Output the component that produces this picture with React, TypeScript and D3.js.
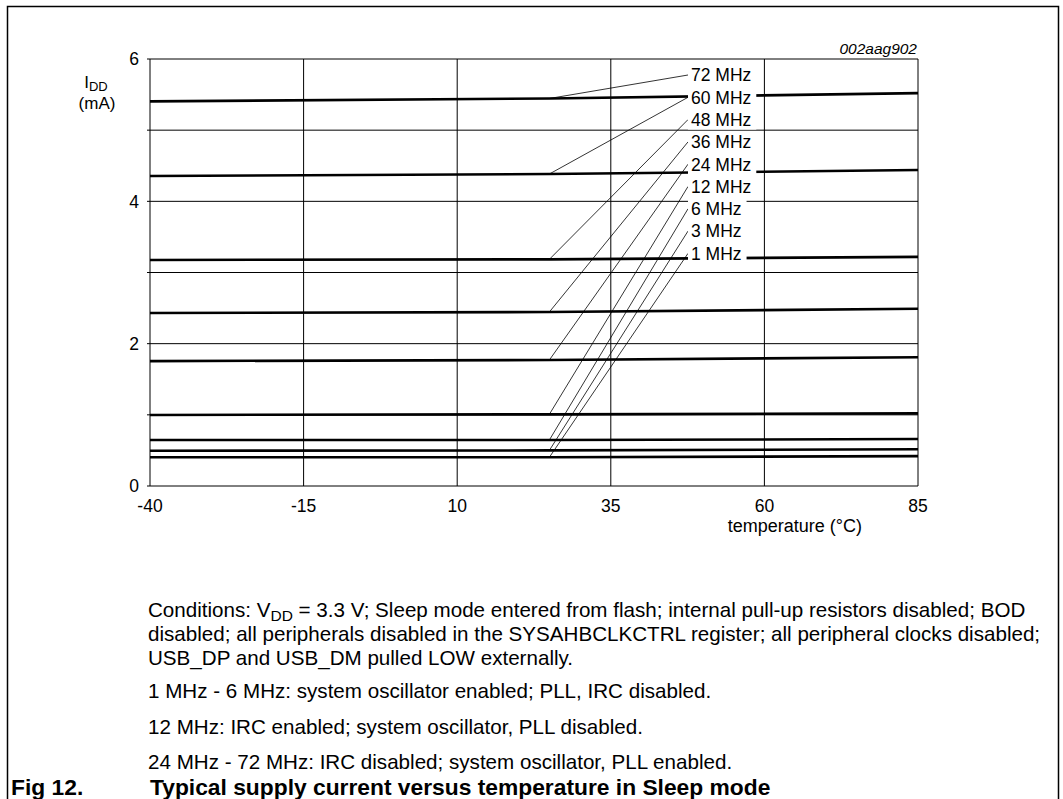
import React from "react";
import * as d3 from "d3";

const temps = [-40, 25, 85];
const freqLabels = ["72 MHz", "60 MHz", "48 MHz", "36 MHz", "24 MHz", "12 MHz", "6 MHz", "3 MHz", "1 MHz"];
const s72 = [5.405, 5.445, 5.52];
const s60 = [4.356, 4.384, 4.44];
const s48 = [3.176, 3.185, 3.22];
const s36 = [2.43, 2.445, 2.49];
const s24 = [1.755, 1.77, 1.81];
const s12 = [0.998, 1.007, 1.02];
const s6 = [0.646, 0.646, 0.66];
const s3 = [0.496, 0.5, 0.516];
const s1 = [0.403, 0.403, 0.42];
const seriesValues = [s72, s60, s48, s36, s24, s12, s6, s3, s1];
const xTicks = [-40, -15, 10, 35, 60, 85];
const yTicks = [0, 1, 2, 3, 4, 5, 6];
const yTickLabels = [0, 2, 4, 6];
const anchorTemp = 25;

const FONT = "Arial, 'Liberation Sans', Helvetica, sans-serif";

const charW: Record<string, number> = { " ": 0.278, M: 0.833, H: 0.722, z: 0.5 };
function textWidth(s: string, fs: number) {
  let w = 0;
  for (const c of s) w += charW[c] ?? 0.556;
  return w * fs;
}

export default function App() {
  const x = d3.scaleLinear().domain([-40, 85]).range([150, 918]);
  const y = d3.scaleLinear().domain([0, 6]).range([486, 59]);
  const line = d3
    .line<number>()
    .x((_, i) => x(temps[i]))
    .y((d) => y(d))
    .curve(d3.curveMonotoneX);

  const labFs = 17.5;
  const labX = 691;
  const labY0 = 75;
  const labStep = 22.3;

  const interp = (vals: number[], t: number) => {
    const sc = d3.scaleLinear().domain(temps).range(vals);
    return sc(t);
  };

  return (
    <svg
      width={1063}
      height={799}
      style={{ position: "absolute", left: 0, top: 0, display: "block", background: "#fff" }}
      fontFamily={FONT}
    >
      {/* outer frame */}
      <path d="M7.5,805 V6.5 H1058.5 V805" fill="none" stroke="#000" strokeWidth={1.5} />

      {/* gridlines */}
      {yTicks.map((t) => (
        <line key={"gy" + t} x1={x(-40) - 3} x2={x(85)} y1={y(t)} y2={y(t)} stroke="#000" strokeWidth={1} />
      ))}
      {xTicks.map((t) => (
        <line key={"gx" + t} x1={x(t)} x2={x(t)} y1={y(6)} y2={y(0)} stroke="#000" strokeWidth={1} />
      ))}

      {/* series */}
      {seriesValues.map((vals, i) => (
        <path key={"s" + i} d={line(vals) || ""} fill="none" stroke="#000" strokeWidth={2.6} />
      ))}

      {/* leader lines */}
      {seriesValues.map((vals, i) => (
        <line
          key={"ld" + i}
          x1={labX - 3}
          y1={labY0 + i * labStep}
          x2={x(anchorTemp)}
          y2={y(interp(vals, anchorTemp))}
          stroke="#000"
          strokeWidth={0.8}
        />
      ))}

      {/* label boxes */}
      {freqLabels.map((l, i) => (
        <rect
          key={"lb" + i}
          x={labX - 3}
          y={labY0 + i * labStep - 10}
          width={textWidth(l, labFs) + 8}
          height={20}
          fill="#fff"
        />
      ))}
      {freqLabels.map((l, i) => (
        <text key={"lt" + i} x={labX} y={labY0 + i * labStep} dy="0.36em" fontSize={labFs} fill="#000">
          {l}
        </text>
      ))}

      {/* y tick labels */}
      {yTickLabels.map((t) => (
        <text key={"yl" + t} x={139} y={y(t)} dy="0.36em" textAnchor="end" fontSize={17.5}>
          {t}
        </text>
      ))}
      {/* x tick labels */}
      {xTicks.map((t) => (
        <text key={"xl" + t} x={x(t)} y={512} textAnchor="middle" fontSize={17.5}>
          {t}
        </text>
      ))}

      {/* axis titles */}
      <text x={96} y={88} textAnchor="middle" fontSize={17}>
        I<tspan fontSize={13} dy={3}>DD</tspan>
      </text>
      <text x={97} y={109} textAnchor="middle" fontSize={17}>
        (mA)
      </text>
      <text x={862} y={532} textAnchor="end" fontSize={18}>
        temperature (°C)
      </text>
      <text x={917} y={54} textAnchor="end" fontSize={15.5} fontStyle="italic">
        002aag902
      </text>

      {/* notes */}
      <g fontSize={20.6}>
        <text x={148} y={617}>
          Conditions: V<tspan fontSize={15.5} dy={4}>DD</tspan>
          <tspan dy={-4}> = 3.3 V; Sleep mode entered from flash; internal pull-up resistors disabled; BOD</tspan>
        </text>
        <text x={148} y={641}>
          disabled; all peripherals disabled in the SYSAHBCLKCTRL register; all peripheral clocks disabled;
        </text>
        <text x={148} y={665}>USB_DP and USB_DM pulled LOW externally.</text>
        <text x={148} y={698}>1 MHz - 6 MHz: system oscillator enabled; PLL, IRC disabled.</text>
        <text x={148} y={734}>12 MHz: IRC enabled; system oscillator, PLL disabled.</text>
        <text x={148} y={769}>24 MHz - 72 MHz: IRC disabled; system oscillator, PLL enabled.</text>
      </g>
      <text x={11} y={795} fontSize={22.8} fontWeight="bold">
        Fig 12.
      </text>
      <text x={150} y={795} fontSize={22.8} fontWeight="bold">
        Typical supply current versus temperature in Sleep mode
      </text>
    </svg>
  );
}
